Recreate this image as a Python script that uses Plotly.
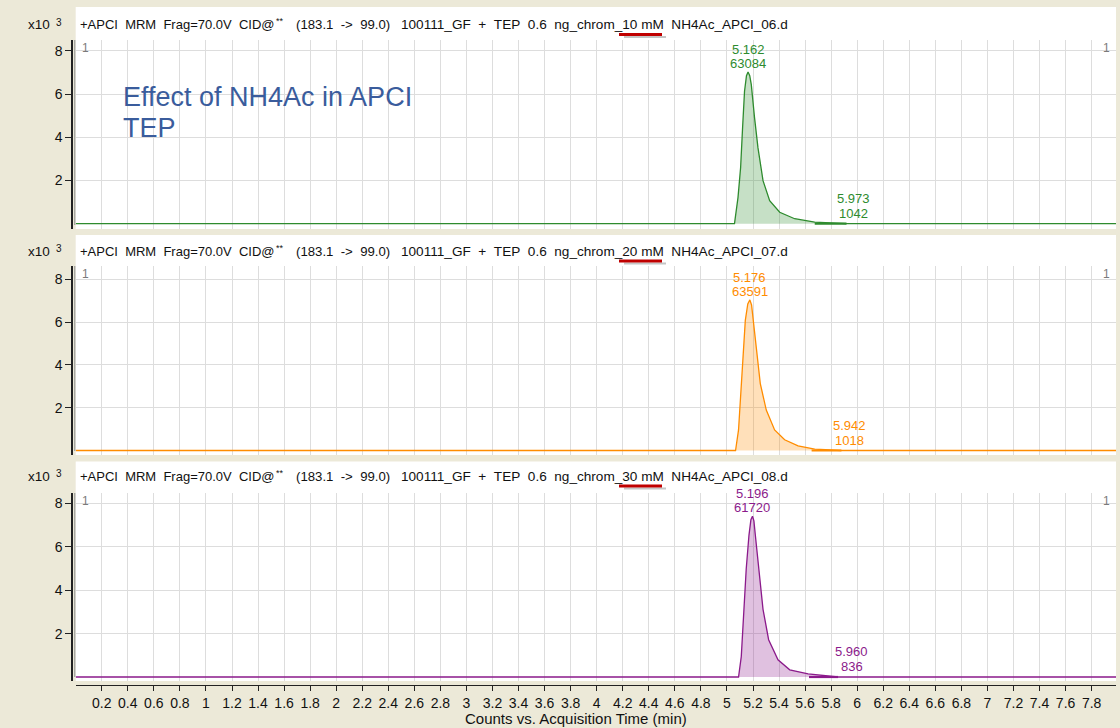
import plotly.graph_objects as go

# ---------------------------------------------------------------- data
# MRM chromatograms of TEP (183.1 -> 99.0) at three NH4Ac concentrations
conc_labels = ["10 mM", "20 mM", "30 mM"]
file_ids = ["06", "07", "08"]
colors = ["#2E8B2E", "#FF8C00", "#8B1A8B"]
fill_colors = ["rgba(46,139,46,0.27)", "rgba(255,140,0,0.27)", "rgba(139,26,139,0.27)"]

time_10mM = [0.0, 5.058, 5.085, 5.105, 5.120, 5.135, 5.150, 5.162, 5.175, 5.187, 5.212,
             5.238, 5.277, 5.328, 5.405, 5.520, 5.674, 5.918, 7.987]
counts_10mM = [0, 0, 1220, 2600, 4440, 6130, 6850, 7020, 6850, 6440, 4900,
               3520, 1990, 1070, 530, 230, 70, 0, 0]

time_20mM = [0.0, 5.066, 5.089, 5.105, 5.123, 5.141, 5.160, 5.176, 5.189, 5.200, 5.225,
             5.256, 5.302, 5.366, 5.443, 5.546, 5.674, 5.879, 7.987]
counts_20mM = [0, 0, 960, 2510, 4370, 6080, 6850, 7040, 6800, 6230, 4680,
               3130, 1890, 960, 500, 220, 60, 0, 0]

time_30mM = [0.0, 5.089, 5.110, 5.128, 5.148, 5.169, 5.184, 5.196, 5.207, 5.218, 5.243,
             5.277, 5.320, 5.392, 5.482, 5.623, 5.854, 7.987]
counts_30mM = [0, 0, 940, 2800, 4980, 6530, 7250, 7410, 7200, 6530, 4980,
               3120, 1720, 790, 330, 140, 0, 0]

times = [time_10mM, time_20mM, time_30mM]
counts = [counts_10mM, counts_20mM, counts_30mM]

# integrated peaks: retention time (min) and area
main_rt = [5.162, 5.176, 5.196]
main_area = [63084, 63591, 61720]
minor_rt = [5.973, 5.942, 5.960]
minor_area = [1042, 1018, 836]
# integration baseline of the minor peak (start, end)
minor_start = [5.674, 5.650, 5.630]
minor_end = [5.918, 5.879, 5.853]

y_tick_values = [2000, 4000, 6000, 8000]
y_tick_labels = ["2", "4", "6", "8"]
x_tick_labels = ["0.2", "0.4", "0.6", "0.8", "1", "1.2", "1.4", "1.6", "1.8", "2",
                 "2.2", "2.4", "2.6", "2.8", "3", "3.2", "3.4", "3.6", "3.8", "4",
                 "4.2", "4.4", "4.6", "4.8", "5", "5.2", "5.4", "5.6", "5.8", "6",
                 "6.2", "6.4", "6.6", "6.8", "7", "7.2", "7.4", "7.6", "7.8"]
x_tick_values = [float(s) for s in x_tick_labels]

# ---------------------------------------------------------------- layout geometry (pixels)
W, H = 1120, 728
FONT = "Liberation Sans, Arial, sans-serif"
BEIGE = "#ECE9D8"
GRID = "#DDDDDD"
INK = "#111111"
X_LEFT, X_RIGHT = 75.7, 1116
X_MAX = 7.987

panels = [
    dict(top=7, header=25, grid_top=40, zero=223.7, scale=21.6, bottom=229),
    dict(top=235, header=251.5, grid_top=266, zero=450.5, scale=21.4, bottom=455),
    dict(top=461.5, header=476.5, grid_top=493, zero=677, scale=21.7, bottom=681),
]


def px(x):
    return x / W


def py(y):
    return 1 - y / H


def nb(s):
    return s.replace(" ", "\u00a0")


def text_at(x, y, text, size, color=INK, xanchor="left", xref="paper", yref="paper",
            yanchor="middle", yshift=0):
    return dict(xref=xref, yref=yref, x=x, y=y, xanchor=xanchor, yanchor=yanchor,
                yshift=yshift, showarrow=False, text=text,
                font=dict(family=FONT, size=size, color=color))


fig = go.Figure()
shapes = []
annotations = []

for i, p in enumerate(panels):
    n = "" if i == 0 else str(i + 1)
    xa, ya = "x" + n, "y" + n

    # trace with shaded peak
    fig.add_trace(go.Scatter(
        x=times[i], y=counts[i], mode="lines", xaxis=xa, yaxis=ya,
        line=dict(color=colors[i], width=1.3), fill="tozeroy",
        fillcolor=fill_colors[i], showlegend=False, hoverinfo="skip"))
    # integration baseline of the minor peak
    fig.add_trace(go.Scatter(
        x=[minor_start[i], minor_end[i]], y=[0, 0], mode="lines",
        xaxis=xa, yaxis=ya, line=dict(color=colors[i], width=2.2),
        showlegend=False, hoverinfo="skip"))

    y_lo = -(p["bottom"] - p["zero"]) / p["scale"] * 1000
    y_hi = (p["zero"] - p["grid_top"]) / p["scale"] * 1000
    last = i == len(panels) - 1

    xaxis = dict(
        domain=[px(X_LEFT), px(X_RIGHT)], range=[0, X_MAX],
        tickvals=x_tick_values, ticktext=x_tick_labels,
        showgrid=True, gridcolor=GRID, gridwidth=1, zeroline=False,
        showticklabels=last, ticks="outside" if last else "", ticklen=5,
        tickcolor="#222", fixedrange=True,
        tickfont=dict(family=FONT, size=14, color=INK),
    )
    if last:
        xaxis.update(anchor="free", position=py(685), showline=True,
                     linecolor="#222", linewidth=1)
    else:
        xaxis.update(anchor=ya, showline=False)
    fig.layout["xaxis" + n] = xaxis

    fig.layout["yaxis" + n] = dict(
        domain=[py(p["bottom"]), py(p["grid_top"])], range=[y_lo, y_hi],
        anchor="free", position=px(72), showline=True, linecolor="#222",
        linewidth=1.5, ticks="outside", ticklen=6, tickcolor="#222",
        tickvals=y_tick_values, ticktext=y_tick_labels,
        tickfont=dict(family=FONT, size=14, color=INK),
        showgrid=True, gridcolor=GRID, gridwidth=1, zeroline=False,
        fixedrange=True,
    )

    # white panel background (header strip + plot area)
    shapes.append(dict(type="rect", xref="paper", yref="paper", layer="below",
                       x0=px(X_LEFT), x1=px(X_RIGHT), y0=py(p["bottom"]), y1=py(p["top"]),
                       fillcolor="white", line=dict(width=0)))
    # inner grey line of the double y-axis line
    shapes.append(dict(type="line", xref="paper", yref="paper",
                       x0=px(74.8), x1=px(74.8), y0=py(p["bottom"] - 4), y1=py(p["grid_top"]),
                       line=dict(color="#8A8A8A", width=1)))

    # header text: scan description and data file
    hy = py(p["header"])
    annotations.append(text_at(px(78), hy, nb("+APCI  MRM  Frag=70.0V  CID@"), 13.0))
    annotations.append(text_at(px(274), py(p["header"] - 4), "**", 9))
    annotations.append(text_at(px(294), hy, nb("(183.1  ->  99.0)"), 13.2))
    annotations.append(text_at(px(399), hy, nb("100111_GF  +  TEP  0.6  ng_chrom_" + conc_labels[i]
                                               + "  NH4Ac_APCI_" + file_ids[i] + ".d"), 13.6))
    # intensity multiplier
    annotations.append(text_at(px(52), hy, "x10", 13.5, xanchor="right"))
    annotations.append(text_at(px(54), py(p["header"] - 3), "3", 10))

    # red underline with its shadow below the concentration
    shapes.append(dict(type="rect", xref="paper", yref="paper",
                       x0=px(624), x1=px(666), y0=py(p["header"] + 13), y1=py(p["header"] + 11),
                       fillcolor="rgba(90,90,90,0.35)", line=dict(width=0)))
    shapes.append(dict(type="rect", xref="paper", yref="paper",
                       x0=px(619), x1=px(662), y0=py(p["header"] + 11), y1=py(p["header"] + 8),
                       fillcolor="#C00000", line=dict(width=0)))

    # grey "1" markers at the top corners
    for xx, anc in ((80, "left"), (1112, "right")):
        annotations.append(text_at(px(xx), py(p["grid_top"] + 8), "1", 12,
                                   color="#7A7A7A", xanchor=anc))

    # peak labels: retention time above area
    apex = max(counts[i])
    annotations.append(text_at(main_rt[i], apex, f"{main_rt[i]:.3f}", 13, colors[i], "center",
                               xa, ya, "bottom", 13))
    annotations.append(text_at(main_rt[i], apex, f"{main_area[i]}", 13, colors[i], "center",
                               xa, ya, "bottom", -1))
    annotations.append(text_at(minor_rt[i], 0, f"{minor_rt[i]:.3f}", 13, colors[i], "center",
                               xa, ya, "bottom", 16))
    annotations.append(text_at(minor_rt[i], 0, f"{minor_area[i]}", 13, colors[i], "center",
                               xa, ya, "bottom", 1))

# x-axis title below the tick labels
annotations.append(text_at(px(576), py(718), "Counts vs. Acquisition Time (min)", 15,
                           xanchor="center"))

# chart heading inside the first panel
annotations.append(text_at(px(121), py(97), "Effect of NH4Ac in APCI", 27, "#3A5C9C"))
annotations.append(text_at(px(121), py(128), "TEP", 27, "#3A5C9C"))

fig.update_layout(
    width=W, height=H, margin=dict(l=0, r=0, t=0, b=0),
    paper_bgcolor=BEIGE, plot_bgcolor="rgba(0,0,0,0)",
    shapes=shapes, annotations=annotations, showlegend=False,
)

fig.write_html("out.html", config={"displayModeBar": False})
